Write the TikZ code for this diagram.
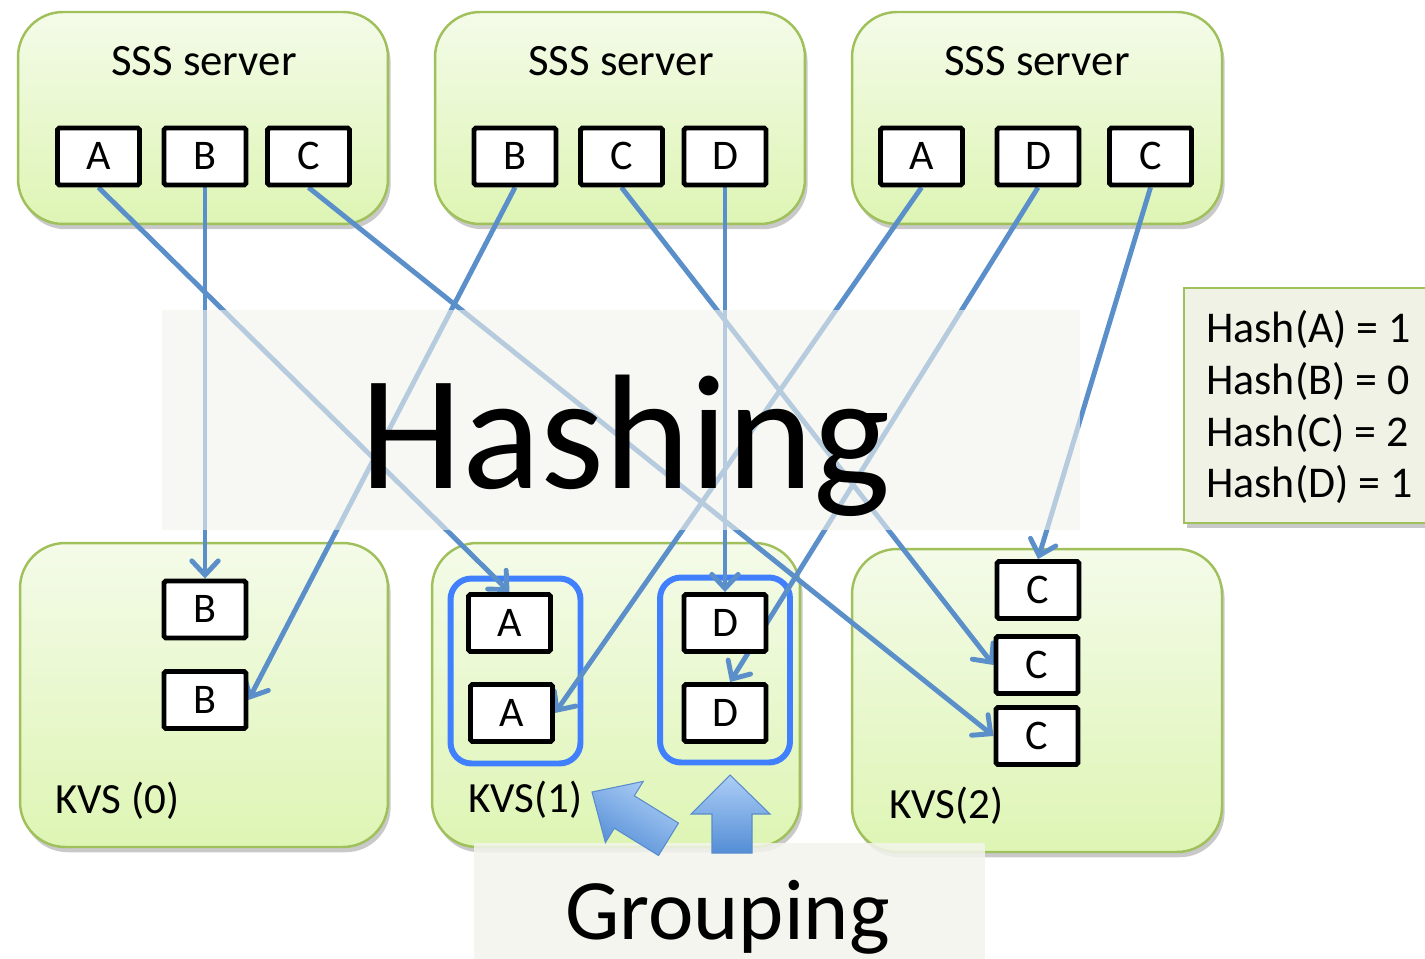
\documentclass[tikz,border=0pt]{standalone}
\usepackage{fontspec}
\setmainfont{Carlito}
\usetikzlibrary{arrows.meta,shadows}
\definecolor{linkc}{RGB}{91,143,201}
\definecolor{grpc}{RGB}{64,128,255}
\definecolor{gtop}{RGB}{244,251,233}
\definecolor{gbot}{RGB}{222,245,180}
\definecolor{gborder}{RGB}{160,192,92}
\definecolor{bgc}{RGB}{243,244,236}
\definecolor{hashfill}{RGB}{239,242,228}
\definecolor{arlight}{RGB}{172,206,246}
\definecolor{ardark}{RGB}{84,142,214}
\definecolor{arborder}{RGB}{90,140,205}
\pgfdeclarelayer{boxes}
\pgfdeclarelayer{links}
\pgfsetlayers{boxes,links,main}
\tikzset{
  greenbox/.style={draw=gborder, line width=1.4pt, rounded corners=0.9cm,
    top color=gtop, bottom color=gbot,
    drop shadow={shadow xshift=1.5pt, shadow yshift=-3pt, opacity=0.35, fill=black!60}},
  item/.style={draw=black, line width=2.8pt, fill=white, minimum width=1.64cm,
    minimum height=1.14cm, inner sep=0pt, rounded corners=1pt,
    font=\fontsize{24}{28}\selectfont, text height=15pt, text depth=0pt},
  grp/.style={draw=grpc, line width=3.4pt, rounded corners=0.42cm,
    minimum width=2.6cm, minimum height=3.7cm, inner sep=0pt},
  link/.style={draw=linkc, line width=2.8pt,
    -{Straight Barb[length=8pt,width=15pt,line cap=round]}},
  bgbox/.style={fill=bgc, fill opacity=0.6, draw=none, inner sep=0pt},
  lbl/.style={anchor=base west, inner sep=0pt},
  blockarrow/.style={draw=arborder, line width=0.6pt, top color=arlight, bottom color=ardark}
}
\begin{document}
\begin{tikzpicture}[x=0.02cm,y=-0.02cm]
\useasboundingbox (0,0) rectangle (1425,959);
\clip (0,0) rectangle (1425,959);

\begin{pgfonlayer}{boxes}
\fill[white] (0,0) rectangle (1425,959);
% containers
\node[greenbox, minimum width=7.4cm, minimum height=4.24cm] (srv1) at (203,118) {};
\node[greenbox, minimum width=7.4cm, minimum height=4.24cm] (srv2) at (620,118) {};
\node[greenbox, minimum width=7.4cm, minimum height=4.24cm] (srv3) at (1037,118) {};
\node[greenbox, minimum width=7.36cm, minimum height=6.08cm] (kvs0) at (204,695) {};
\node[greenbox, minimum width=7.36cm, minimum height=6.08cm] (kvs1) at (616,695) {};
\node[greenbox, minimum width=7.4cm, minimum height=6.06cm] (kvs2) at (1037,700.5) {};
% group outlines
\node[grp] (gA) at (515.5,671) {};
\node[grp] (gD) at (725,670) {};
\end{pgfonlayer}

% hash legend
\node[draw=gborder, line width=1.4pt, fill=hashfill, minimum width=5.12cm, minimum height=4.7cm,
  drop shadow={shadow xshift=1.5pt, shadow yshift=-3pt, opacity=0.35, fill=black!60}] (hashbox) at (1312,405.5) {};
\node[lbl, font=\fontsize{25}{30}\selectfont] (h1) at (1206,342) {Hash(A) = 1};
\node[lbl, font=\fontsize{25}{30}\selectfont] (h2) at (1206,394) {Hash(B) = 0};
\node[lbl, font=\fontsize{25}{30}\selectfont] (h3) at (1206,446) {Hash(C) = 2};
\node[lbl, font=\fontsize{25}{30}\selectfont] (h4) at (1206,497) {Hash(D) = 1};

% titles
\node[anchor=base, inner sep=0pt, font=\fontsize{25.5}{30}\selectfont] (t1) at (204,76) {SSS server};
\node[anchor=base, inner sep=0pt, font=\fontsize{25.5}{30}\selectfont] (t2) at (621,76) {SSS server};
\node[anchor=base, inner sep=0pt, font=\fontsize{25.5}{30}\selectfont] (t3) at (1037,76) {SSS server};
\node[lbl, font=\fontsize{24.5}{29}\selectfont] (l0) at (55,813) {KVS (0)};
\node[lbl, font=\fontsize{24.5}{29}\selectfont] (l1) at (468,812) {KVS(1)};
\node[lbl, font=\fontsize{24.5}{29}\selectfont] (l2) at (889,818) {KVS(2)};

% items
\node[item] (s1a) at (98.5,156.5) {A};
\node[item] (s1b) at (205,156.5) {B};
\node[item] (s1c) at (308.5,156.5) {C};
\node[item] (s2b) at (515,156.5) {B};
\node[item] (s2c) at (621.5,156.5) {C};
\node[item] (s2d) at (725,156.5) {D};
\node[item] (s3a) at (921.5,156.5) {A};
\node[item] (s3d) at (1038,156.5) {D};
\node[item] (s3c) at (1150.5,156.5) {C};

\node[item] (k0b1) at (205,609.5) {B};
\node[item] (k0b2) at (205,700) {B};
\node[item] (k1a1) at (509.5,623) {A};
\node[item] (k1a2) at (511.5,713) {A};
\node[item] (k1d1) at (725,623) {D};
\node[item] (k1d2) at (725,713) {D};
\node[item] (k2c1) at (1038,590) {C};
\node[item] (k2c2) at (1037,665) {C};
\node[item] (k2c3) at (1037,736) {C};

% links (beneath items)
\begin{pgfonlayer}{links}
\draw[link] (s1a.south) -- (k1a1.north);
\draw[link] (s1b.south) -- (k0b1.north);
\draw[link] (s1c.south) -- (k2c3.west);
\draw[link] (s2b.south) -- (k0b2.east);
\draw[link] (s2c.south) -- (k2c2.west);
\draw[link] (s2d.south) -- (k1d1.north);
\draw[link] (s3a.south) -- (k1a2.east);
\draw[link] (s3d.south) -- ([xshift=0.1cm]k1d2.north);
\draw[link] (s3c.south) -- (k2c1.north);
\end{pgfonlayer}

% hashing backdrop
\node[bgbox, minimum width=18.36cm, minimum height=4.4cm] (hashbg) at (621,420) {};
\node[lbl, font=\fontsize{93}{100}\selectfont] (hashing) at (360,488) {Hashing};

% grouping backdrop
\node[bgbox, fill opacity=0.85, minimum width=10.22cm, minimum height=2.44cm] (groupbg) at (729.5,904) {};

% block arrows
\draw[blockarrow, shading angle=-30] (592,792) -- (643.2,781.4) -- (634.3,795.8) -- (678.5,823.1)
   -- (658.5,855.5) -- (614.3,828.2) -- (605.4,842.6) -- cycle;
\draw[blockarrow] (730,775) -- (770,814) -- (752,814) -- (752,853) -- (712,853) -- (712,814) -- (691,814) -- cycle;

\node[lbl, font=\fontsize{49}{55}\selectfont] (grouping) at (565,939) {Grouping};
\end{tikzpicture}
\end{document}
